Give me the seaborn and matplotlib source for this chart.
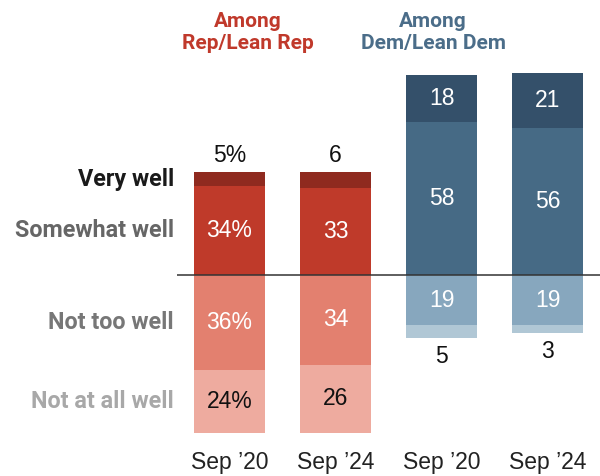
import matplotlib
matplotlib.use("Agg")
import matplotlib.pyplot as plt
import seaborn as sns
import pandas as pd

# Survey results: how well things are going, by party and wave
bar_ids = ["rep20", "rep24", "dem20", "dem24"]
periods = ["Sep \u201920", "Sep \u201924", "Sep \u201920", "Sep \u201924"]
party = ["Rep", "Rep", "Dem", "Dem"]
very_well = [5, 6, 18, 21]
somewhat_well = [34, 33, 58, 56]
not_too_well = [36, 34, 19, 19]
not_at_all_well = [24, 26, 5, 3]
row_labels = ["Very well", "Somewhat well", "Not too well", "Not at all well"]
headers = ["Among\nRep/Lean Rep", "Among\nDem/Lean Dem"]

palette = {
    "Rep": {"very": "#8f2a1f", "some": "#bf3a2a", "nottoo": "#e3806f", "notall": "#eeab9f"},
    "Dem": {"very": "#34506a", "some": "#466a85", "nottoo": "#87a7be", "notall": "#b0c7d5"},
}
header_colors = {"Rep": "#c0392b", "Dem": "#4b6d89"}
row_label_colors = ["#1a1a1a", "#666666", "#777777", "#a8a8a8"]

sns.set_theme(style="white")
plt.rcParams["font.family"] = ["Liberation Sans", "DejaVu Sans"]

fig = plt.figure(figsize=(6, 4.76), dpi=100)
ax = fig.add_axes([0, 31 / 476, 1, 1 - 31 / 476])

pos_total = [s + v for s, v in zip(somewhat_well, very_well)]
neg_total = [-(a + b) for a, b in zip(not_too_well, not_at_all_well)]
neg_inner = [-a for a in not_too_well]

layers = [
    (pos_total, "very"),
    (somewhat_well, "some"),
    (neg_total, "notall"),
    (neg_inner, "nottoo"),
]
for values, key in layers:
    df = pd.DataFrame({"bar": bar_ids, "value": values})
    pal = {b: palette[p][key] for b, p in zip(bar_ids, party)}
    sns.barplot(data=df, x="bar", y="value", hue="bar", palette=pal,
                order=bar_ids, hue_order=bar_ids, width=0.67, saturation=1,
                legend=False, errorbar=None, linewidth=0, ax=ax)

# Segment value labels
num_size = 16.5
for i in range(len(bar_ids)):
    suffix = "%" if i == 0 else ""
    sw, vw, nt, na = somewhat_well[i], very_well[i], not_too_well[i], not_at_all_well[i]
    # very well
    if vw < 10:
        ax.text(i, sw + vw + 6.6, f"{vw}{suffix}", ha="center", va="center",
                fontsize=num_size, color="#111111")
    else:
        ax.text(i, sw + vw / 2, f"{vw}{suffix}", ha="center", va="center",
                fontsize=num_size, color="white")
    ax.text(i, sw / 2, f"{sw}{suffix}", ha="center", va="center",
            fontsize=num_size, color="white")
    ax.text(i, -nt / 2, f"{nt}{suffix}", ha="center", va="center",
            fontsize=num_size, color="white")
    if na < 10:
        ax.text(i, -(nt + na) - 6.9, f"{na}{suffix}", ha="center", va="center",
                fontsize=num_size, color="#111111")
    else:
        ax.text(i, -nt - na / 2, f"{na}{suffix}", ha="center", va="center",
                fontsize=num_size, color="#111111")

# Row labels aligned with the first bar's segments
row_y = [
    somewhat_well[0] + very_well[0] / 2,
    somewhat_well[0] / 2,
    -not_too_well[0] / 2,
    -not_too_well[0] - not_at_all_well[0] / 2,
]
for lab, y, c in zip(row_labels, row_y, row_label_colors):
    ax.text(-0.525, y, lab, ha="right", va="center", fontsize=16.8,
            fontweight="bold", color=c, family=["Roboto", "DejaVu Sans"])

# Group headers
ax.text(0.17, 92.2, headers[0], ha="center", va="center", fontsize=15,
        fontweight="bold", color=header_colors["Rep"], linespacing=1.25,
        family=["Roboto", "DejaVu Sans"])
ax.text(1.92, 92.2, headers[1], ha="center", va="center", fontsize=15,
        fontweight="bold", color=header_colors["Dem"], linespacing=1.25,
        family=["Roboto", "DejaVu Sans"])

# Zero line
ax.plot([-0.498, 3.6], [0, 0], color="#333333", lw=1.1, solid_capstyle="butt")

ax.set_xlim(-2.165, 3.495)
ax.set_ylim(-64.6, 104.56)
ax.set_xticks(range(len(bar_ids)))
ax.set_xticklabels(periods, fontsize=num_size, color="#222222")
ax.tick_params(axis="x", length=0, pad=4)
ax.set_yticks([])
ax.set_xlabel("")
ax.set_ylabel("")
for s in ax.spines.values():
    s.set_visible(False)

fig.savefig("out.png", dpi=100)
